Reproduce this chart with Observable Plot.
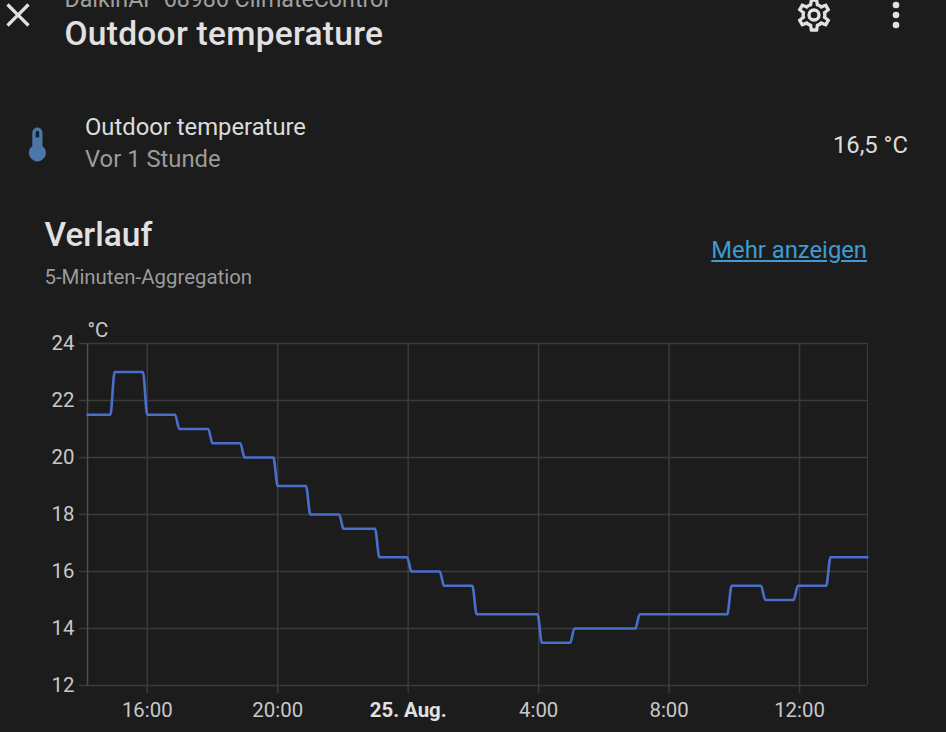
<!DOCTYPE html>
<html><head><meta charset="utf-8">
<script src="https://cdn.jsdelivr.net/npm/d3@7"></script>
<script src="https://cdn.jsdelivr.net/npm/@observablehq/plot@0.6"></script>
<style>
html,body{margin:0;padding:0;background:#1c1c1c;width:946px;height:732px;overflow:hidden;font-family:Roboto,sans-serif}
#chart{position:absolute;left:0;top:319.5px}
.t{position:absolute;line-height:1;white-space:nowrap}
.i{position:absolute}
</style></head><body>
<div id="chart"></div>
<script>
const day1 = "2023-08-24T", day2 = "2023-08-25T";
const times = [
  day1+"14:10",day1+"14:52",day1+"15:00",day1+"15:52",day1+"16:00",day1+"16:51",day1+"16:59",
  day1+"17:52",day1+"18:00",day1+"18:51",day1+"18:59",day1+"19:52",day1+"20:00",day1+"20:52",day1+"21:00",
  day1+"21:53",day1+"22:01",day1+"22:59",day1+"23:07",day1+"23:58",day2+"00:06",day2+"00:58",day2+"01:06",
  day2+"01:58",day2+"02:06",day2+"03:58",day2+"04:06",day2+"04:58",day2+"05:06",day2+"06:58",day2+"07:06",
  day2+"09:47",day2+"09:55",day2+"10:49",day2+"10:57",day2+"11:49",day2+"11:57",day2+"12:49",day2+"12:57",day2+"14:05"
];
const temps = [
  21.5,21.5,23,23,21.5,21.5,21,
  21,20.5,20.5,20,20,19,19,18,
  18,17.5,17.5,16.5,16.5,16,16,15.5,
  15.5,14.5,14.5,13.5,13.5,14,14,14.5,
  14.5,15.5,15.5,15,15,15.5,15.5,16.5,16.5
];
const yTicks = [12,14,16,18,20,22,24];
const hourTicks = [day1+"16:00",day1+"20:00",day2+"04:00",day2+"08:00",day2+"12:00"];
const hourLabels = ["16:00","20:00","4:00","8:00","12:00"];
const dateTick = [day2+"00:00"];
const dateLabel = "25. Aug.";

const rows = times.map((t,i)=>({t:new Date(t),v:temps[i]}));
const hours = hourTicks.map(t=>new Date(t));
const dates = dateTick.map(t=>new Date(t));
const domainX = [new Date(times[0]), new Date(times[times.length-1])];
const GRID="#3b3b3b", LABEL="#c8c8c8";

const plot = Plot.plot({
  width:946,height:412,
  marginLeft:87,marginRight:79,marginTop:23,marginBottom:47,
  style:{background:"transparent",fontFamily:"Roboto",fontSize:"20.4px",color:LABEL},
  x:{type:"time",domain:domainX},
  y:{domain:[12,24]},
  marks:[
    Plot.ruleY(yTicks,{stroke:GRID,strokeWidth:1.5}),
    Plot.ruleX([...hours,...dates],{stroke:GRID,strokeWidth:1.5}),
    Plot.ruleX([domainX[0]],{stroke:"#4e4e4e",strokeWidth:1.5}),
    Plot.ruleX([domainX[1]],{stroke:GRID,strokeWidth:1}),
    Plot.axisY({ticks:yTicks,label:null,tickSize:8,tickPadding:5,stroke:GRID,fill:LABEL,strokeWidth:1.5}),
    Plot.axisX({ticks:hours,label:null,tickSize:8,tickPadding:9,stroke:GRID,fill:LABEL,strokeWidth:1.5,
      tickFormat:d=>hourLabels[hours.findIndex(h=>+h===+d)]}),
    Plot.axisX({ticks:dates,label:null,tickSize:8,tickPadding:9,stroke:GRID,fill:"#e1e1e1",strokeWidth:1.5,fontWeight:"bold",
      tickFormat:()=>dateLabel}),
    Plot.line(rows,{x:"t",y:"v",curve:"monotone-x",stroke:"#4a6ecb",strokeWidth:2.6})
  ]
});
document.getElementById("chart").append(plot);

const texts = [
  ["DaikinAP 68986 ClimateControl",64.5,7,23.2,"#a0a0a0",400,0],
  ["Outdoor temperature",64.5,45,33.5,"#e1e1e1",500,0.27],
  ["Outdoor temperature",85,136,23.8,"#dcdcdc",400,0],
  ["Vor 1 Stunde",85,168.5,23.8,"#9b9b9b",400,0],
  ["Verlauf",44.5,246,33.5,"#e1e1e1",500,0],
  ["5-Minuten-Aggregation",44.5,284,20.4,"#9b9b9b",400,0],
  ["°C",87.5,337,20.4,"#c8c8c8",400,0]
];
for (const [s,x,b,size,c,w,ls] of texts){
  const d=document.createElement("div");d.className="t";d.textContent=s;
  d.style.cssText=`left:${x}px;top:${b-0.841*size}px;font-size:${size}px;color:${c};font-weight:${w};letter-spacing:${ls}px`;
  document.body.append(d);
}
const right = [["16,5 °C",908,154,23.8,"#dcdcdc",false],["Mehr anzeigen",867,259.5,23.8,"#3f9bd0",true]];
for (const [s,x,b,size,c,u] of right){
  const d=document.createElement("div");d.className="t";d.textContent=s;
  d.style.cssText=`right:${946-x}px;top:${b-0.841*size}px;font-size:${size}px;color:${c};${u?"text-decoration:underline":""}`;
  document.body.append(d);
}
const icons = [
  [17.5,14.5,40,"#e1e1e1","M19,6.41L17.59,5L12,10.59L6.41,5L5,6.41L10.59,12L5,17.59L6.41,19L12,13.41L17.59,19L19,17.59L13.41,12L19,6.41Z"],
  [813.5,14.5,40,"#e1e1e1","M12,8A4,4 0 0,1 16,12A4,4 0 0,1 12,16A4,4 0 0,1 8,12A4,4 0 0,1 12,8M12,10A2,2 0 0,0 10,12A2,2 0 0,0 12,14A2,2 0 0,0 14,12A2,2 0 0,0 12,10M10,22C9.75,22 9.54,21.82 9.5,21.58L9.13,18.93C8.5,18.68 7.96,18.34 7.44,17.94L4.95,18.95C4.73,19.03 4.46,18.95 4.34,18.73L2.34,15.27C2.21,15.05 2.27,14.78 2.46,14.63L4.57,12.97L4.5,12L4.57,11L2.46,9.37C2.27,9.22 2.21,8.95 2.34,8.73L4.34,5.27C4.46,5.05 4.73,4.96 4.95,5.05L7.44,6.05C7.96,5.66 8.5,5.32 9.13,5.07L9.5,2.42C9.54,2.18 9.75,2 10,2H14C14.25,2 14.46,2.18 14.5,2.42L14.87,5.07C15.5,5.32 16.04,5.66 16.56,6.05L19.05,5.05C19.27,4.96 19.54,5.05 19.66,5.27L21.66,8.73C21.79,8.95 21.73,9.22 21.54,9.37L19.43,11L19.5,12L19.43,13L21.54,14.63C21.73,14.78 21.79,15.05 21.66,15.27L19.66,18.73C19.54,18.95 19.27,19.04 19.05,18.95L16.56,17.95C16.04,18.34 15.5,18.68 14.87,18.93L14.5,21.58C14.46,21.82 14.25,22 14,22H10M11.25,4L10.88,6.61C9.68,6.86 8.62,7.5 7.85,8.39L5.44,7.35L4.69,8.65L6.8,10.2C6.4,11.37 6.4,12.64 6.8,13.8L4.68,15.36L5.43,16.66L7.86,15.62C8.63,16.5 9.68,17.14 10.87,17.38L11.24,20H12.76L13.13,17.39C14.32,17.14 15.37,16.5 16.14,15.62L18.57,16.66L19.32,15.36L17.2,13.81C17.6,12.64 17.6,11.37 17.2,10.2L19.31,8.65L18.56,7.35L16.15,8.39C15.38,7.5 14.32,6.86 13.12,6.62L12.75,4H11.25Z"],
  [895.5,14.5,40,"#e1e1e1","M12,16A2,2 0 0,1 14,18A2,2 0 0,1 12,20A2,2 0 0,1 10,18A2,2 0 0,1 12,16M12,10A2,2 0 0,1 14,12A2,2 0 0,1 12,14A2,2 0 0,1 10,12A2,2 0 0,1 12,10M12,4A2,2 0 0,1 14,6A2,2 0 0,1 12,8A2,2 0 0,1 10,6A2,2 0 0,1 12,4Z"],
  [37.5,144,40.8,"#4a76a8","M15 13V5A3 3 0 0 0 9 5V13A5 5 0 1 0 15 13M12 4A1 1 0 0 1 13 5V8H11V5A1 1 0 0 1 12 4Z"]
];
for (const [cx,cy,s,c,p] of icons){
  const d=document.createElement("div");d.className="i";
  d.style.cssText=`left:${cx-s/2}px;top:${cy-s/2}px;width:${s}px;height:${s}px`;
  d.innerHTML=`<svg width="${s}" height="${s}" viewBox="0 0 24 24"><path fill="${c}" d="${p}"/></svg>`;
  document.body.append(d);
}
</script>
</body></html>
